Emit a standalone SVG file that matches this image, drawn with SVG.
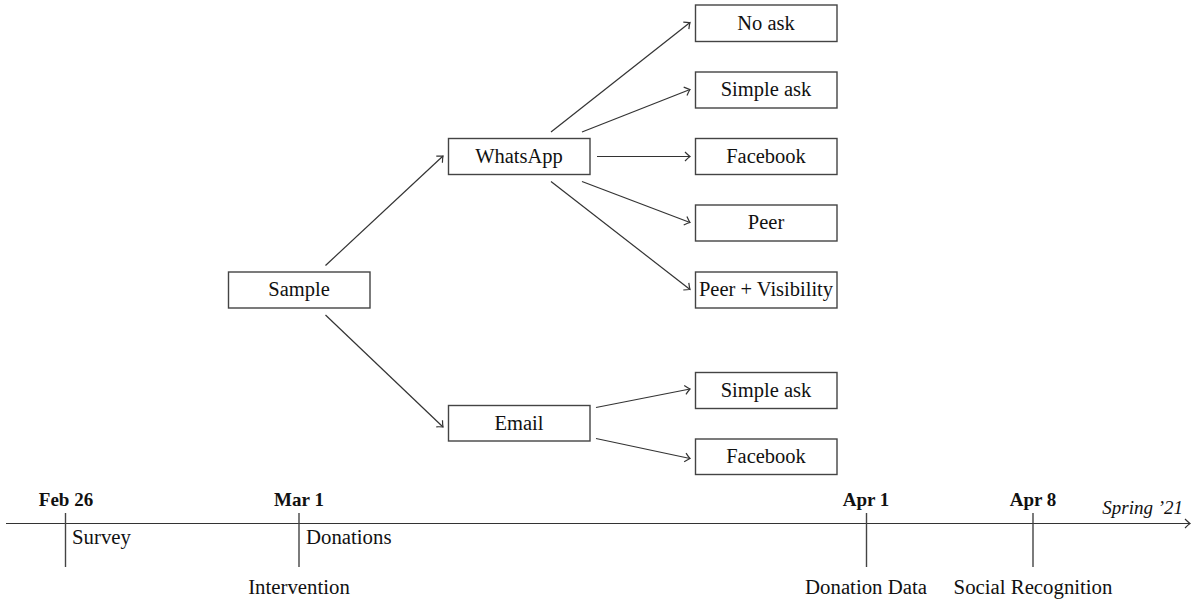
<svg xmlns="http://www.w3.org/2000/svg" width="1200" height="608" viewBox="0 0 1200 608">
<defs>
<style>
.box{fill:#fff;stroke:#444;stroke-width:1.4}
.lbl{font-family:"Liberation Serif","DejaVu Serif",serif;font-size:20.5px;fill:#111;text-anchor:middle}
.edge{stroke:#333;stroke-width:1.2;fill:none;marker-end:url(#ah)}
.tick{stroke:#444;stroke-width:1.4}
.date{font-family:"Liberation Serif","DejaVu Serif",serif;font-size:19px;font-weight:bold;fill:#111;text-anchor:middle}
.tl{font-family:"Liberation Serif","DejaVu Serif",serif;font-size:20.8px;fill:#111}
.axis{font-family:"Liberation Serif","DejaVu Serif",serif;font-size:19px;font-style:italic;fill:#111;text-anchor:end}
</style>
<marker id="ah" markerWidth="12" markerHeight="12" refX="0" refY="0" viewBox="-7 -6 9 12" orient="auto" markerUnits="userSpaceOnUse">
<path d="M-5,-4.5 Q-1.5,-1 0,0 Q-1.5,1 -5,4.5" fill="none" stroke="#333" stroke-width="1.2"/>
</marker>
</defs>
<g id="connectors">
<line class="edge" x1="325.5" y1="265.5" x2="443" y2="156"/>
<line class="edge" x1="325.5" y1="315" x2="443" y2="427"/>
<line class="edge" x1="551" y1="132" x2="690" y2="22.5"/>
<line class="edge" x1="582" y1="132" x2="690" y2="89.5"/>
<line class="edge" x1="597" y1="156.5" x2="690" y2="156.5"/>
<line class="edge" x1="582" y1="181.5" x2="690" y2="222.5"/>
<line class="edge" x1="551" y1="181.5" x2="690" y2="289.5"/>
<line class="edge" x1="596" y1="407.5" x2="690" y2="389"/>
<line class="edge" x1="596" y1="438.5" x2="690" y2="458.5"/>
</g>
<g id="sample"><rect class="box" x="228.5" y="272" width="141.5" height="36"/><text class="lbl" x="299" y="296">Sample</text></g>
<g id="whatsapp"><rect class="box" x="448.5" y="138.5" width="141.5" height="36"/><text class="lbl" x="519" y="162.5">WhatsApp</text></g>
<g id="email"><rect class="box" x="448.5" y="405.5" width="141.5" height="35.5"/><text class="lbl" x="519" y="429.5">Email</text></g>
<g id="wa-noask"><rect class="box" x="695.5" y="5" width="141.5" height="36.5"/><text class="lbl" x="766" y="29.5">No ask</text></g>
<g id="wa-simple"><rect class="box" x="695.5" y="72" width="141.5" height="36"/><text class="lbl" x="766" y="96">Simple ask</text></g>
<g id="wa-facebook"><rect class="box" x="695.5" y="138.5" width="141.5" height="36"/><text class="lbl" x="766" y="162.5">Facebook</text></g>
<g id="wa-peer"><rect class="box" x="695.5" y="205" width="141.5" height="36"/><text class="lbl" x="766" y="229">Peer</text></g>
<g id="wa-peervis"><rect class="box" x="695.5" y="272" width="141.5" height="36"/><text class="lbl" x="766" y="296">Peer + Visibility</text></g>
<g id="em-simple"><rect class="box" x="695.5" y="372.5" width="141.5" height="36"/><text class="lbl" x="766" y="396.5">Simple ask</text></g>
<g id="em-facebook"><rect class="box" x="695.5" y="439" width="141.5" height="35.5"/><text class="lbl" x="766" y="463">Facebook</text></g>
<g id="timeline">
<line class="edge" x1="6" y1="523.5" x2="1190" y2="523.5"/>
<line class="tick" x1="65.5" y1="513" x2="65.5" y2="567"/>
<line class="tick" x1="299" y1="513" x2="299" y2="567"/>
<line class="tick" x1="866.5" y1="513" x2="866.5" y2="567"/>
<line class="tick" x1="1033" y1="513" x2="1033" y2="567"/>
<text class="date" x="66" y="506">Feb 26</text>
<text class="date" x="299" y="506">Mar 1</text>
<text class="date" x="866" y="506">Apr 1</text>
<text class="date" x="1033" y="506">Apr 8</text>
<text class="tl" x="72" y="544">Survey</text>
<text class="tl" x="306" y="544">Donations</text>
<text class="tl" x="299" y="594" text-anchor="middle">Intervention</text>
<text class="tl" x="866" y="594" text-anchor="middle">Donation Data</text>
<text class="tl" x="1033" y="594" text-anchor="middle">Social Recognition</text>
<text class="axis" x="1183" y="514">Spring ’21</text>
</g>
</svg>
